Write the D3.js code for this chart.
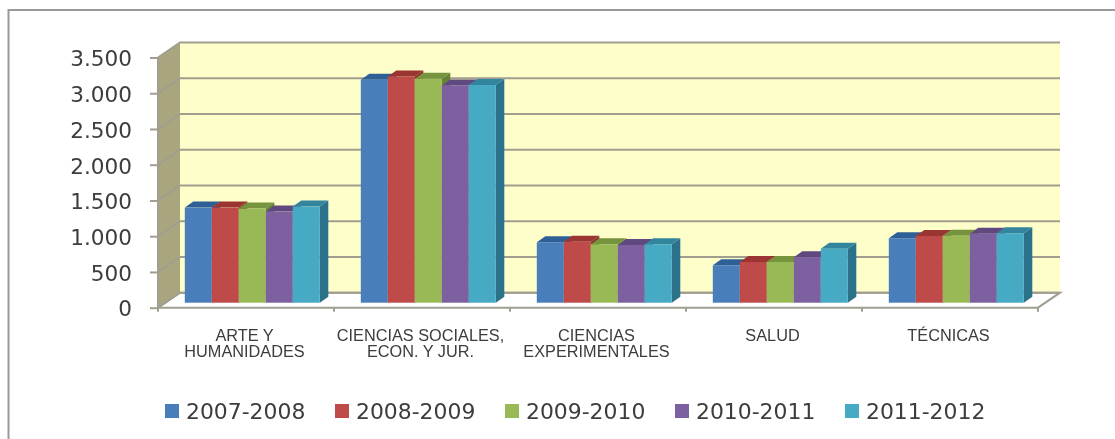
<!DOCTYPE html>
<html><head><meta charset="utf-8">
<script src="https://cdn.jsdelivr.net/npm/d3@7/dist/d3.min.js"></script>
<style>html,body{margin:0;padding:0;background:#fff;overflow:hidden}svg{display:block}</style>
</head><body><svg id="c" width="1115" height="439"></svg>
<script>
const categories = [["ARTE Y","HUMANIDADES"],["CIENCIAS SOCIALES,","ECON. Y JUR."],["CIENCIAS","EXPERIMENTALES"],["SALUD"],["TÉCNICAS"]];
const seriesNames = ["2007-2008","2008-2009","2009-2010","2010-2011","2011-2012"];
const s2007 = [1330,3119,846,524,902];
const s2008 = [1330,3165,854,570,934];
const s2009 = [1316,3133,818,570,938];
const s2010 = [1275,3040,808,636,966];
const s2011 = [1345,3045,818,756,972];
const seriesValues = [s2007,s2008,s2009,s2010,s2011];
const yTicks = [0,500,1000,1500,2000,2500,3000,3500];
const frontColors = ["#4a7ebb","#be4b48","#98b954","#7d60a0","#46aac5"];
const topColors = ["#2f5f97","#9a3431","#76933c","#5f4a7f","#31859c"];
const sideColors = ["#2c5a8e","#8c2f2c","#668236","#523f70","#2a7189"];

const svg = d3.select("#c");
const defs = svg.append("defs");
defs.append("filter").attr("id","soft").attr("filterUnits","userSpaceOnUse")
  .attr("x",0).attr("y",0).attr("width",1115).attr("height",439)
  .append("feGaussianBlur").attr("stdDeviation",0.6);
const root = svg.append("g").attr("filter","url(#soft)");

// frame
root.append("path").attr("d","M8.5,445V10H1125").attr("fill","none").attr("stroke","#999").attr("stroke-width",2);

const x0 = 158, x1 = 1038, depthX = 22, depthY = -15;
const y = d3.scaleLinear().domain([0,3500]).range([307.7,57.5]);
const xBand = d3.scaleBand().domain(d3.range(categories.length)).range([x0,x1]);
const barInset = 20.5, barShiftX = 6.3, barShiftY = -5, barDX = 8.5, barDY = -6;
const xBar = d3.scaleBand().domain(d3.range(seriesNames.length)).range([barInset,xBand.bandwidth()-barInset]);
const grid = "#a09f8f";

// back wall
root.append("rect").attr("x",x0+depthX).attr("y",y(3500)+depthY).attr("width",x1-x0).attr("height",y(0)-y(3500))
  .attr("fill","#fefecb");
// side wall
root.append("path").attr("d",`M${x0},${y(0)}L${x0},${y(3500)}L${x0+depthX},${y(3500)+depthY}L${x0+depthX},${y(0)+depthY}Z`)
  .attr("fill","#a9a67f");
// floor
root.append("path").attr("d",`M${x0},${y(0)}L${x1},${y(0)}L${x1+depthX},${y(0)+depthY}L${x0+depthX},${y(0)+depthY}Z`)
  .attr("fill","#fff").attr("stroke",grid).attr("stroke-width",2);
// gridlines
root.append("g").selectAll("path").data(yTicks).join("path")
  .attr("d",d=>`M${x0},${y(d)}L${x0+depthX},${y(d)+depthY}L${x1+depthX},${y(d)+depthY}`)
  .attr("fill","none").attr("stroke",grid).attr("stroke-width",2);

// y axis
const yAxis = d3.axisLeft(y).tickValues(yTicks).tickSize(8).tickPadding(17)
  .tickFormat(d=>d3.format(",")(d).replace(/,/g,"."));
const ya = root.append("g").attr("transform",`translate(${x0},0)`).call(yAxis);
ya.selectAll("line").attr("stroke",grid).attr("stroke-width",2);
ya.select(".domain").attr("stroke",grid).attr("stroke-width",2).attr("d",`M0,${y(0)}V${y(3500)}`);
ya.selectAll("text").attr("font-family","'DejaVu Sans'").attr("font-size",21.6).attr("fill","#3c3c3c")
  .attr("dy","0.36em").attr("transform","translate(-1,0.5)");

// x ticks
root.append("g").selectAll("line").data(d3.range(categories.length+1)).join("line")
  .attr("x1",d=>x0+d*xBand.bandwidth()).attr("x2",d=>x0+d*xBand.bandwidth())
  .attr("y1",y(0)).attr("y2",y(0)+4).attr("stroke",grid).attr("stroke-width",2);

// bars
const rows = categories.flatMap((c,i)=>seriesNames.map((s,j)=>({i,j,v:seriesValues[j][i]})));
const bars = root.append("g").selectAll("g").data(rows).join("g");
const bw = xBar.bandwidth();
const L = d=>xBand(d.i)+xBar(d.j)+barShiftX;
const B = y(0)+barShiftY;
const T = d=>B-(y(0)-y(d.v));
bars.append("path").attr("fill",d=>sideColors[d.j])
  .attr("d",d=>`M${L(d)+bw},${B}L${L(d)+bw},${T(d)}L${L(d)+bw+barDX},${T(d)+barDY}L${L(d)+bw+barDX},${B+barDY}Z`);
bars.append("path").attr("fill",d=>topColors[d.j])
  .attr("d",d=>`M${L(d)},${T(d)}L${L(d)+bw},${T(d)}L${L(d)+bw+barDX},${T(d)+barDY}L${L(d)+barDX},${T(d)+barDY}Z`);
bars.append("rect").attr("fill",d=>frontColors[d.j])
  .attr("x",L).attr("y",T).attr("width",bw).attr("height",d=>B-T(d));

// category labels
const cat = root.append("g").selectAll("text").data(categories).join("text")
  .attr("text-anchor","middle").attr("font-family","'Liberation Sans'").attr("font-size",16.3).attr("fill","#3c3c3c")
  .attr("transform",(d,i)=>`translate(${xBand(i)+xBand.bandwidth()/2-1.5},341)`);
cat.selectAll("tspan").data(d=>d).join("tspan").attr("x",0).attr("y",(d,i)=>i*16).text(d=>d);

// legend
const xLeg = d3.scaleLinear().domain([0,4]).range([165,845]);
const leg = root.append("g").selectAll("g").data(seriesNames).join("g")
  .attr("transform",(d,i)=>`translate(${xLeg(i)},0)`);
leg.append("rect").attr("y",404).attr("width",14).attr("height",14).attr("fill",(d,i)=>frontColors[i]);
leg.append("text").attr("x",21).attr("y",418.5).attr("font-family","'DejaVu Sans'").attr("font-size",21.9).attr("fill","#3c3c3c").text(d=>d);
</script></body></html>
